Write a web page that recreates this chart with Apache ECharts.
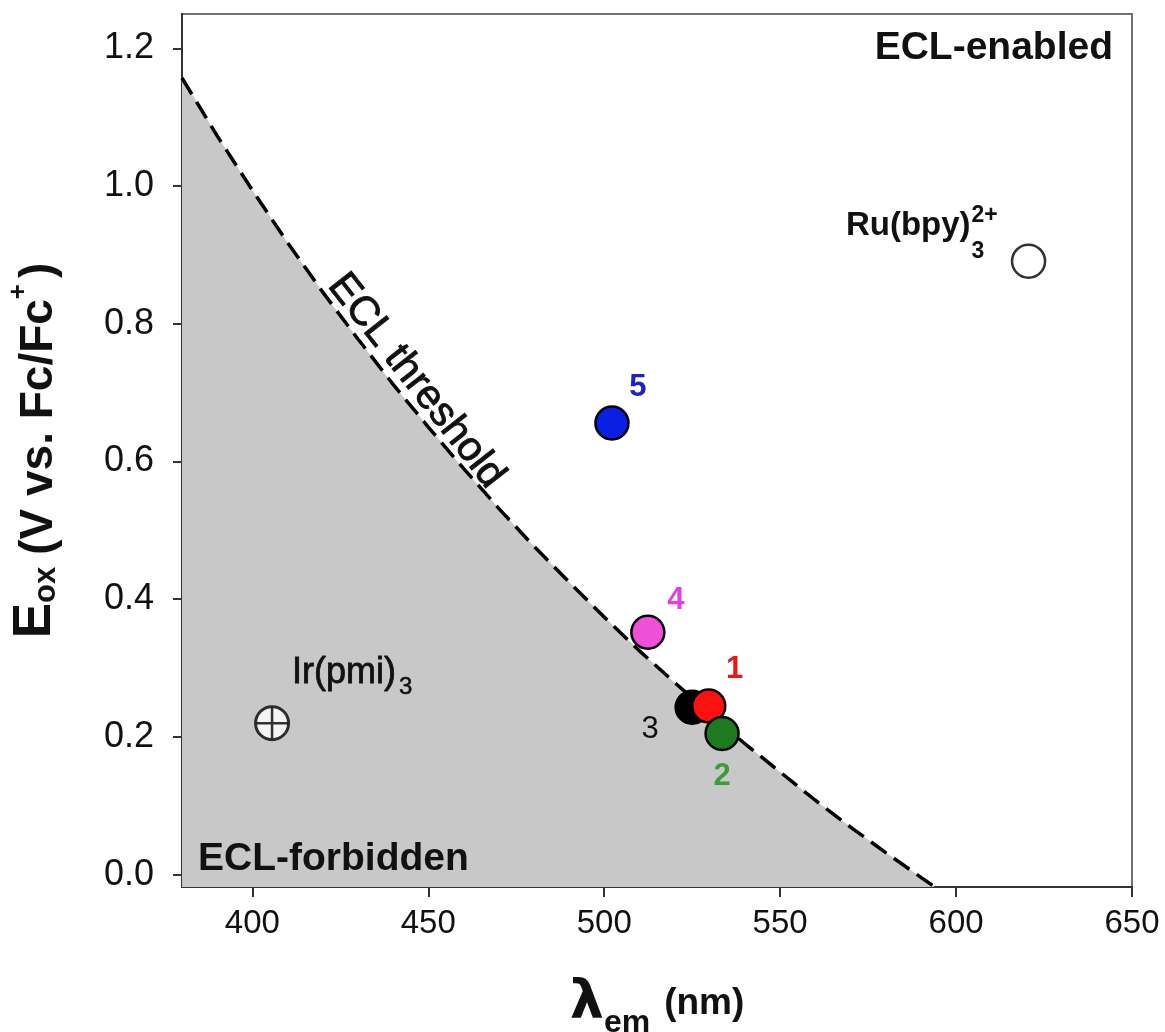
<!DOCTYPE html>
<html><head><meta charset="utf-8">
<script src="https://cdn.jsdelivr.net/npm/echarts@6/dist/echarts.min.js"></script>
<style>html,body{margin:0;padding:0;background:#fff;}#c{width:1165px;height:1032px;}</style>
</head><body><div id="c"></div>
<script>
// ---- data ----
const xTicks = [400, 450, 500, 550, 600, 650];
const yTicks = [0, 0.2, 0.4, 0.6, 0.8, 1.0, 1.2];
// ECL threshold (dashed curve) read along the boundary of the grey region
const thresholdLambda = [380, 390, 400, 410, 420, 430, 440, 450, 460, 470, 480, 490, 500, 510, 520, 530, 540, 550, 560, 570, 580, 590, 594];
const thresholdEox    = [1.157, 1.073, 0.994, 0.918, 0.846, 0.778, 0.712, 0.650, 0.590, 0.532, 0.477, 0.425, 0.374, 0.325, 0.279, 0.234, 0.190, 0.149, 0.108, 0.069, 0.032, -0.004, -0.018];
// compounds 1-5 (drawn in this order: 3 under 1, then 2)
const cmpNames  = ['3', '1', '2', '4', '5'];
const cmpLambda = [525.0, 529.7, 533.5, 512.4, 502.2];
const cmpEox    = [0.243, 0.245, 0.205, 0.352, 0.656];
// reference emitters
const refNames  = ['Ru(bpy)3 2+', 'Ir(pmi)3'];
const refLambda = [620.6, 405.6];
const refEox    = [0.891, 0.220];

// ---- styles ----
const cmpFill  = {'1': '#ff1010', '2': '#1e7a1e', '3': '#000000', '4': '#f050d8', '5': '#0a1ee6'};
const cmpText  = {'1': '#e81818', '2': '#3c9c3c', '3': '#111111', '4': '#e040e0', '5': '#1a22c8'};
const cmpLabOff = {'1': [26, -36], '2': [0, 43], '3': [-42, 22], '4': [28, -32], '5': [26, -36]};
const FONT = '"Liberation Sans", Arial, sans-serif';

const chart = echarts.init(document.getElementById('c'));

const series = [];
series.push({
  name: 'threshold', type: 'line', z: 1,
  data: thresholdLambda.map((l, i) => [l, thresholdEox[i]]),
  symbol: 'none', silent: true,
  lineStyle: {color: '#000', width: 3.5, type: [19, 9]},
  areaStyle: {color: '#c8c8c8', opacity: 1, origin: 'start'}
});
cmpNames.forEach((n, i) => {
  series.push({
    name: n, type: 'scatter', z: 3,
    data: [[cmpLambda[i], cmpEox[i]]],
    symbol: 'circle', symbolSize: 33,
    itemStyle: {color: cmpFill[n], borderColor: '#000', borderWidth: 2.5, opacity: 1},
    label: {show: true, position: 'inside', offset: cmpLabOff[n], formatter: n,
      color: cmpText[n], fontFamily: FONT, fontWeight: n === '3' ? 'normal' : 'bold', fontSize: 31}
  });
});
// Ru(bpy)3 2+ : open circle
series.push({
  name: refNames[0], type: 'scatter', z: 3,
  data: [[refLambda[0], refEox[0]]],
  symbol: 'circle', symbolSize: 33,
  itemStyle: {color: '#fff', borderColor: '#000', borderWidth: 2.5}
});
// Ir(pmi)3 : crossed circle
series.push({
  name: refNames[1], type: 'scatter', z: 3,
  data: [[refLambda[1], refEox[1]]],
  symbol: 'circle', symbolSize: 33,
  itemStyle: {color: '#fff', borderColor: '#000', borderWidth: 3}
});
series.push({
  name: refNames[1] + ' cross', type: 'scatter', z: 4,
  data: [[refLambda[1], refEox[1]]],
  symbol: 'path://M15,0 L15,30 M0,15 L30,15', symbolSize: 31,
  itemStyle: {color: 'none', borderColor: '#000', borderWidth: 2.5}
});

const option = {
  animation: false,
  backgroundColor: '#fff',
  grid: {left: 182, right: 33, top: 14, bottom: 145, show: true, outerBoundsMode: 'none', containLabel: false,
    borderColor: '#707070', borderWidth: 2, backgroundColor: '#fff'},
  xAxis: {
    type: 'value', min: 380, max: 650,
    axisLine: {show: true, onZero: false, lineStyle: {color: '#333', width: 2}},
    axisTick: {show: true, inside: false, length: 10, lineStyle: {color: '#333', width: 2}, customValues: xTicks},
    axisLabel: {customValues: xTicks, margin: 20, color: '#111', fontFamily: FONT, fontSize: 33,
      formatter: v => String(v)},
    splitLine: {show: false},
    name: '{l|λ}{s|em}{n|(nm)}', nameLocation: 'middle', nameGap: 84,
    nameTextStyle: {rich: {
      l: {fontFamily: '"DejaVu Sans", sans-serif', fontWeight: 'bold', fontSize: 54, color: '#111', verticalAlign: 'bottom', lineHeight: 60},
      s: {fontFamily: FONT, fontWeight: 'bold', fontSize: 32, color: '#111', verticalAlign: 'bottom', lineHeight: 60, padding: [0, 0, -8, 0]},
      n: {fontFamily: FONT, fontWeight: 'bold', fontSize: 37, color: '#111', verticalAlign: 'bottom', lineHeight: 60, padding: [0, 0, 9, 14]}
    }}
  },
  yAxis: {
    type: 'value', min: -0.018, max: 1.25,
    axisLine: {show: true, onZero: false, lineStyle: {color: '#333', width: 2}},
    axisTick: {show: true, inside: false, length: 9, lineStyle: {color: '#333', width: 2}, customValues: yTicks},
    axisLabel: {customValues: yTicks, margin: 28, color: '#111', fontFamily: FONT, fontSize: 36,
      formatter: v => v.toFixed(1)},
    splitLine: {show: false},
    name: '{e|E}{s|ox}{p|(V vs. Fc/Fc}{u|+}{q|)}', nameLocation: 'middle', nameRotate: 90, nameGap: 120,
    nameTextStyle: {rich: {
      e: {fontFamily: FONT, fontWeight: 'bold', fontSize: 53, color: '#111', verticalAlign: 'bottom', lineHeight: 60},
      s: {fontFamily: '"Liberation Sans Narrow", ' + FONT, fontWeight: 'bold', fontSize: 31, color: '#111', verticalAlign: 'bottom', lineHeight: 60, padding: [0, 12, 0, 0]},
      p: {fontFamily: FONT, fontWeight: 'bold', fontSize: 46, color: '#111', verticalAlign: 'bottom', lineHeight: 60},
      q: {fontFamily: FONT, fontWeight: 'bold', fontSize: 46, color: '#111', verticalAlign: 'bottom', lineHeight: 60, padding: [0, 0, 0, 6]},
      u: {fontFamily: FONT, fontWeight: 'bold', fontSize: 26, color: '#111', verticalAlign: 'top', lineHeight: 60, padding: [4, 0, 0, 0]}
    }}
  },
  series: series
};
chart.setOption(option);

// ---- annotations positioned from data coordinates ----
const px = p => chart.convertToPixel({gridIndex: 0}, p);
const tl = px([380, 1.25]), br = px([650, -0.018]);
const ru = px([refLambda[0], refEox[0]]);
const ir = px([refLambda[1], refEox[1]]);
const thrAnchor = px([442.3, 0.70]);
const ang = -0.906; // text direction along the threshold curve
const graphics = [
  {type: 'text', z: 10, x: br[0] - 19, y: tl[1] + 34,
    style: {text: 'ECL-enabled', font: 'bold 39px ' + FONT, fill: '#111', align: 'right', verticalAlign: 'middle'}},
  {type: 'text', z: 10, x: tl[0] + 16, y: br[1] - 28,
    style: {text: 'ECL-forbidden', font: 'bold 39px ' + FONT, fill: '#111', align: 'left', verticalAlign: 'middle'}},
  {type: 'text', z: 10, x: thrAnchor[0] + Math.sin(-ang) * 19, y: thrAnchor[1] - Math.cos(ang) * 19, rotation: ang,
    style: {text: 'ECL threshold', font: '41px ' + FONT, fill: '#111', stroke: '#111', lineWidth: 0.9, align: 'center', verticalAlign: 'middle'}},
  {type: 'text', z: 10, x: ru[0] - 58, y: ru[1] - 35,
    style: {text: 'Ru(bpy)', font: 'bold 33px ' + FONT, fill: '#111', align: 'right', verticalAlign: 'middle'}},
  {type: 'text', z: 10, x: ru[0] - 57, y: ru[1] - 10,
    style: {text: '3', font: 'bold 23px ' + FONT, fill: '#111', align: 'left', verticalAlign: 'middle'}},
  {type: 'text', z: 10, x: ru[0] - 57, y: ru[1] - 46,
    style: {text: '2+', font: 'bold 23px ' + FONT, fill: '#111', align: 'left', verticalAlign: 'middle'}},
  {type: 'text', z: 10, x: ir[0] + 20, y: ir[1] - 50,
    style: {text: 'Ir(pmi)', font: '36px ' + FONT, fill: '#111', stroke: '#111', lineWidth: 0.8, align: 'left', verticalAlign: 'middle'}},
  {type: 'text', z: 10, x: ir[0] + 127, y: ir[1] - 36,
    style: {text: '3', font: '24px ' + FONT, fill: '#111', stroke: '#111', lineWidth: 0.5, align: 'left', verticalAlign: 'middle'}}
];
chart.setOption({graphic: graphics});
</script>
</body></html>
